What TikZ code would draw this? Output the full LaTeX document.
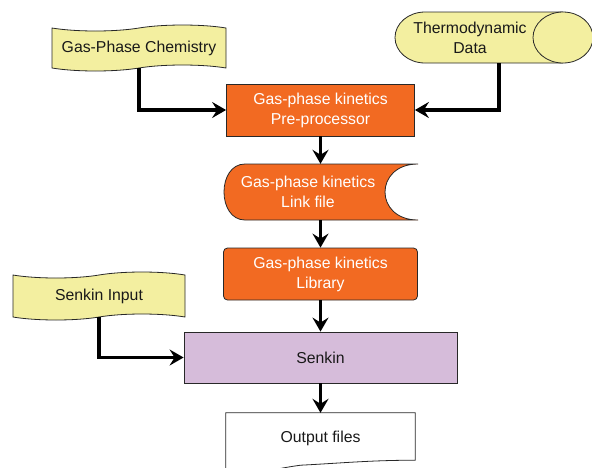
\documentclass[tikz,border=0pt]{standalone}
\usepackage{fontspec}
\setmainfont{Liberation Sans}
\usetikzlibrary{shapes.symbols,arrows.meta,calc,backgrounds}
\definecolor{flagyellow}{RGB}{243,239,160}
\definecolor{kinorange}{RGB}{242,106,34}
\definecolor{senkinpurple}{RGB}{214,188,218}
\definecolor{edgegray}{RGB}{40,40,40}

\begin{document}
\begin{tikzpicture}[x=1pt,y=-1pt,
		font=\fontsize{15.8}{20}\selectfont,
		every node/.style={align=center, text=black!90, inner sep=0pt},
		kinbox/.style={rectangle, draw=edgegray, line width=0.8pt, fill=kinorange, text=white, minimum width=188pt, minimum height=52pt},
		flag/.style={tape, tape bend height=6pt, draw=edgegray, line width=0.8pt, fill=flagyellow},
		outline/.style={draw=edgegray, line width=0.8pt},
		flow/.style={line width=3.4pt, -{Stealth[length=14pt,width=16pt,inset=5pt]}}
	]
	\useasboundingbox (0,0) rectangle (592,467);

	% Inputs
	\node[flag, minimum width=174pt, minimum height=46pt] (gaschem) at (139,48) {Gas-Phase Chemistry};
	\node[minimum width=120pt, minimum height=51pt] (thermo) at (470,37.5) {Thermodynamic\\Data};

	% Kinetics chain
	\node[kinbox] (prepro) at (320.5,110) {Gas-phase kinetics\\Pre-processor};
	\node[text=white, minimum width=150pt, minimum height=56pt] (link) at (308,192) {Gas-phase kinetics\\Link file};
	\node[kinbox, rounded corners=4pt, minimum width=194pt] (lib) at (320.5,274) {Gas-phase kinetics\\Library};

	% Senkin
	\node[flag, minimum width=172pt, minimum height=48pt] (sinput) at (99,296) {Senkin Input};
	\node[rectangle, outline, fill=senkinpurple, minimum width=273pt, minimum height=51pt] (senkin) at (320.5,357.5) {Senkin};
	\node[minimum width=189pt, minimum height=50pt] (out) at (320.5,438) {Output files};

	% Cylinder, stored data and document outlines
	\begin{scope}[on background layer]
		\draw[outline, fill=flagyellow] (563,12) -- (425,12) arc[start angle=90, end angle=270, x radius=30, y radius=-25.5]
			-- (563,63);
		\draw[outline, fill=flagyellow] (563,37.5) ellipse[x radius=30, y radius=25.5];
		\draw[outline, fill=kinorange] (245,164) -- (418,164)
			.. controls (374,164) and (374,220) .. (418,220)
			-- (245,220) .. controls (217,220) and (217,164) .. cycle;
		\draw[outline, fill=white] (out.south west) ++(0,12) -- (out.north west) -- (out.north east) -- ($(out.south east)+(0,-3)$)
			.. controls ($(out.south east)+(-45,-3)$) and ($(out.south)+(20,0)$) .. ($(out.south)+(-20,2)$)
			.. controls ($(out.south)+(-50,6)$) and ($(out.south west)+(30,12)$) .. ($(out.south west)+(0,12)$);
	\end{scope}

	% Connectors
	\draw[flow] (gaschem.south) |- (prepro.west);
	\draw[flow] ($(thermo.south)+(29,0)$) |- (prepro.east);
	\draw[flow] (prepro) -- (prepro |- link.north);
	\draw[flow] (link.south -| lib) -- (lib);
	\draw[flow] (lib) -- (senkin);
	\draw[flow] (sinput.south) |- (senkin.west);
	\draw[flow] (senkin) -- (out);
\end{tikzpicture}
\end{document}
